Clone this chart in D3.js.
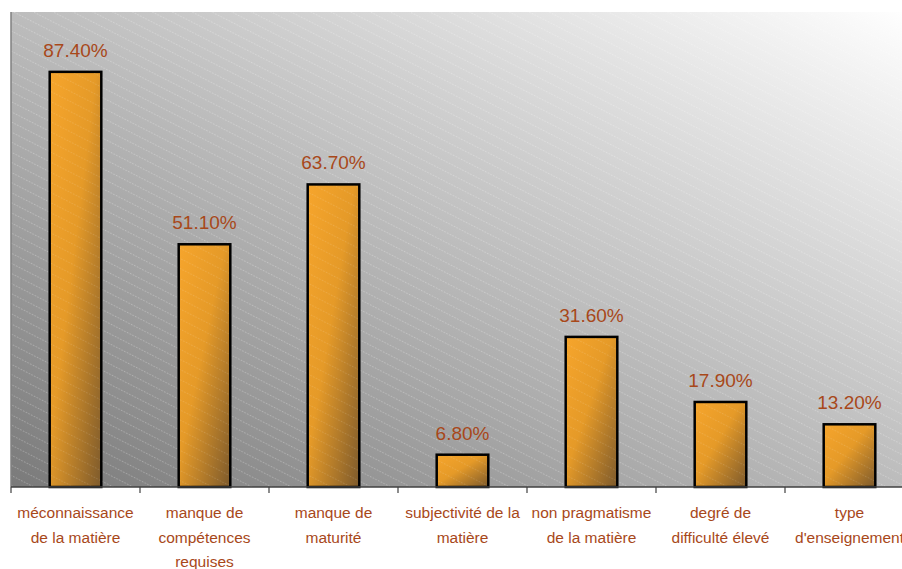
<!DOCTYPE html>
<html>
<head>
<meta charset="utf-8">
<title>Bar chart</title>
<script src="https://d3js.org/d3.v7.min.js"></script>
<style>
  body { margin: 0; background: #fff; }
  text { font-family: "Liberation Sans", "DejaVu Sans", sans-serif; }
</style>
</head>
<body>
<div id="chart"></div>
<script>

// data
const categories = [
  "méconnaissance\nde la matière",
  "manque de\ncompétences\nrequises",
  "manque de\nmaturité",
  "subjectivité de la\nmatière",
  "non pragmatisme\nde la matière",
  "degré de\ndifficulté élevé",
  "type\nd'enseignement"
];
const values = [87.4, 51.1, 63.7, 6.8, 31.6, 17.9, 13.2];
const yDomain = [0, 100];

const width = 902, height = 569;
const plot = { left: 11, top: 12, right: 914, bottom: 487 };
const labelColor = "#a8481a";

const svg = d3.select("#chart").append("svg")
  .attr("width", width)
  .attr("height", height);

const defs = svg.append("defs");

// fond : dégradé gris (bas gauche) -> blanc (haut droit)
const bg = defs.append("linearGradient").attr("id", "bg")
  .attr("x1", 0).attr("y1", 1).attr("x2", 1).attr("y2", 0);
bg.append("stop").attr("offset", "0%").attr("stop-color", "#7a7a7a");
bg.append("stop").attr("offset", "100%").attr("stop-color", "#ffffff");

// dégradé des barres
const bar = defs.append("linearGradient").attr("id", "barFill")
  .attr("x1", 0).attr("y1", 0).attr("x2", 1).attr("y2", 1);
bar.append("stop").attr("offset", "0%").attr("stop-color", "#f6a52c");
bar.append("stop").attr("offset", "45%").attr("stop-color", "#e59a28");
bar.append("stop").attr("offset", "100%").attr("stop-color", "#7d5a2c");

// lignes pointillées diagonales
const pat = defs.append("pattern").attr("id", "hatch")
  .attr("patternUnits", "userSpaceOnUse")
  .attr("width", 9).attr("height", 9)
  .attr("patternTransform", "rotate(27)");
pat.append("line")
  .attr("x1", 0).attr("y1", 4.5).attr("x2", 9).attr("y2", 4.5)
  .attr("stroke", "#ffffff").attr("stroke-width", 0.8)
  .attr("stroke-dasharray", "1.5,1.5")
  .attr("stroke-opacity", 0.35);

// échelles
const x = d3.scaleBand()
  .domain(categories)
  .range([plot.left, plot.right])
  .paddingInner(0.6)
  .paddingOuter(0.3);

const y = d3.scaleLinear()
  .domain(yDomain)
  .range([plot.bottom, plot.top]);

// zone de tracé
svg.append("rect")
  .attr("x", plot.left).attr("y", plot.top)
  .attr("width", plot.right - plot.left).attr("height", plot.bottom - plot.top)
  .attr("fill", "url(#bg)");
svg.append("rect")
  .attr("x", plot.left).attr("y", plot.top)
  .attr("width", plot.right - plot.left).attr("height", plot.bottom - plot.top)
  .attr("fill", "url(#hatch)");

// axe vertical
svg.append("line")
  .attr("x1", plot.left).attr("x2", plot.left)
  .attr("y1", plot.top).attr("y2", plot.bottom)
  .attr("stroke", "#808080").attr("stroke-width", 1.5);

// barres
const data = categories.map((c, i) => ({ cat: c, value: values[i] }));

const bars = svg.append("g").selectAll("g")
  .data(data)
  .join("g");

bars.append("rect")
  .attr("x", d => x(d.cat))
  .attr("y", d => y(d.value))
  .attr("width", x.bandwidth())
  .attr("height", d => y(0) - y(d.value))
  .attr("fill", "url(#barFill)");

bars.append("rect")
  .attr("x", d => x(d.cat))
  .attr("y", d => y(d.value))
  .attr("width", x.bandwidth())
  .attr("height", d => y(0) - y(d.value))
  .attr("fill", "url(#hatch)")
  .attr("opacity", 0.5);

bars.append("rect")
  .attr("x", d => x(d.cat))
  .attr("y", d => y(d.value))
  .attr("width", x.bandwidth())
  .attr("height", d => y(0) - y(d.value))
  .attr("fill", "none")
  .attr("stroke", "#000")
  .attr("stroke-width", 2.5);

// étiquettes de valeur
bars.append("text")
  .attr("x", d => x(d.cat) + x.bandwidth() / 2)
  .attr("y", d => y(d.value) - 15)
  .attr("text-anchor", "middle")
  .attr("fill", labelColor)
  .style("font-size", "19px")
  .text(d => d.value.toFixed(2) + "%");

// axe horizontal (graduations entre les catégories)
const xAxis = svg.append("g")
  .attr("transform", `translate(0,${plot.bottom})`);

xAxis.append("line")
  .attr("x1", plot.left).attr("x2", plot.right)
  .attr("stroke", "#404040").attr("stroke-width", 1.5);

const step = x.step();
const tickPos = d3.range(categories.length + 1).map(i => plot.left + i * step);
xAxis.selectAll(".tick")
  .data(tickPos)
  .join("line")
  .attr("class", "tick")
  .attr("x1", d => d).attr("x2", d => d)
  .attr("y1", 0).attr("y2", 6)
  .attr("stroke", "#404040").attr("stroke-width", 1.2);

// libellés des catégories
xAxis.selectAll(".cat")
  .data(categories)
  .join("text")
  .attr("class", "cat")
  .attr("text-anchor", "middle")
  .attr("fill", labelColor)
  .style("font-size", "15.5px")
  .each(function(d) {
    const t = d3.select(this);
    d.split("\n").forEach((line, i) => {
      t.append("tspan")
        .attr("x", x(d) + x.bandwidth() / 2)
        .attr("y", 31 + i * 24.5)
        .text(line);
    });
  });

</script>
</body>
</html>
